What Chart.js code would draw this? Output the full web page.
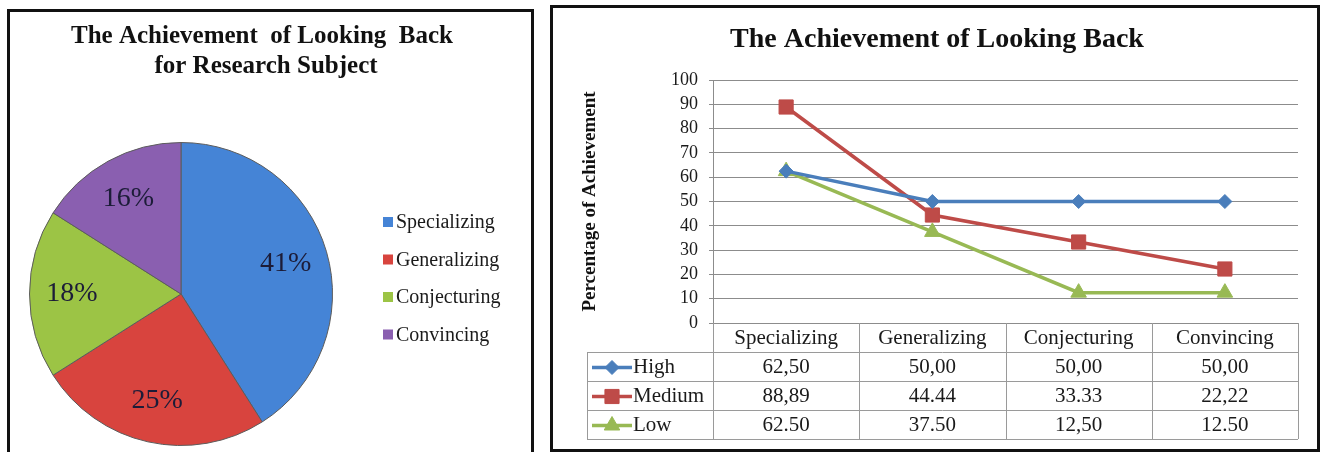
<!DOCTYPE html>
<html>
<head>
<meta charset="utf-8">
<script src="https://cdn.jsdelivr.net/npm/chart.js@4.4.1/dist/chart.umd.min.js"></script>
<style>
  body { margin: 0; background: #fff; width: 1323px; height: 452px; overflow: hidden; position: relative; }
  .panel { position: absolute; top: 0; height: 452px; }
  .frame { position: absolute; border: 3px solid #111; box-sizing: border-box; pointer-events: none; }
</style>
</head>
<body>
<div class="panel" style="left:0;width:540px"><canvas id="pieChart" width="540" height="452"></canvas></div>
<div class="panel" style="left:545px;width:778px"><canvas id="lineChart" width="778" height="452"></canvas></div>
<div class="frame" style="left:7px;top:9px;width:527px;height:460px"></div>
<div class="frame" style="left:550px;top:5px;width:770px;height:447px"></div>
<script>
const SERIF = '"Liberation Serif", "Times New Roman", serif';

// pie: share of looking-back achievement
const pieLabels = ['Specializing', 'Generalizing', 'Conjecturing', 'Convincing'];
const pieValues = [41, 25, 18, 16];
const pieColors = ['#4584d6', '#d8443e', '#9cc445', '#8a5fb0'];

// line chart + data table
const categories = ['Specializing', 'Generalizing', 'Conjecturing', 'Convincing'];
const highValues = [62.50, 50.00, 50.00, 50.00];
const mediumValues = [88.89, 44.44, 33.33, 22.22];
const lowValues = [62.50, 37.50, 12.50, 12.50];
// table cells as printed in the source
const highText = ['62,50', '50,00', '50,00', '50,00'];
const mediumText = ['88,89', '44.44', '33.33', '22,22'];
const lowText = ['62.50', '37.50', '12,50', '12.50'];
const yTicks = [0, 10, 20, 30, 40, 50, 60, 70, 80, 90, 100];

const pieText = {
  id: 'pieText',
  afterDraw(chart) {
    const ctx = chart.ctx;
    ctx.save();
    ctx.fillStyle = '#111';
    ctx.textAlign = 'center';
    ctx.textBaseline = 'middle';
    ctx.font = 'bold 25px ' + SERIF;
    ctx.fillText('The Achievement  of Looking  Back', 262, 37);
    ctx.fillText('for Research Subject', 266, 67);

    // percent labels inside the slices
    const meta = chart.getDatasetMeta(0);
    ctx.font = '28px ' + SERIF;
    ctx.fillStyle = '#1c1c38';
    meta.data.forEach((arc, i) => {
      const p = arc.getProps(['x', 'y', 'startAngle', 'endAngle', 'outerRadius']);
      const mid = (p.startAngle + p.endAngle) / 2;
      const r = p.outerRadius * 0.72;
      ctx.fillText(pieValues[i] + '%', p.x + Math.cos(mid) * r, p.y + Math.sin(mid) * r);
    });

    // legend
    ctx.font = '20px ' + SERIF;
    ctx.textAlign = 'left';
    pieLabels.forEach((lab, i) => {
      const y = 222 + i * 37.5;
      ctx.fillStyle = pieColors[i];
      ctx.fillRect(383, y - 5, 10, 10);
      ctx.fillStyle = '#1a1a1a';
      ctx.fillText(lab, 396, y + 1);
    });
    ctx.restore();
  }
};

new Chart(document.getElementById('pieChart'), {
  type: 'pie',
  data: {
    labels: pieLabels,
    datasets: [{
      data: pieValues,
      backgroundColor: pieColors,
      borderColor: '#5c5c5c',
      borderWidth: 1
    }]
  },
  options: {
    responsive: false,
    animation: false,
    layout: { padding: { left: 29, right: 207, top: 142, bottom: 6 } },
    plugins: { legend: { display: false }, tooltip: { enabled: false } }
  },
  plugins: [pieText]
});

const dataTable = {
  id: 'dataTable',
  afterDraw(chart) {
    const ctx = chart.ctx;
    const area = chart.chartArea;
    const x = chart.scales.x;
    const n = categories.length;
    const colW = (area.right - area.left) / n;
    const rowH = 29;
    const top = area.bottom;
    const headLeft = 42;
    const rows = [highText, mediumText, lowText];
    const bottom = top + rowH * (rows.length + 1);

    ctx.save();
    // title
    ctx.fillStyle = '#111';
    ctx.textAlign = 'center';
    ctx.textBaseline = 'middle';
    ctx.font = 'bold 28px ' + SERIF;
    ctx.fillText('The Achievement of Looking Back', 392, 40);

    // grid of the table
    ctx.strokeStyle = '#9a9a9a';
    ctx.lineWidth = 1;
    ctx.beginPath();
    for (let i = 0; i <= n; i++) {
      const bx = Math.round(area.left + i * colW) + 0.5;
      ctx.moveTo(bx, top);
      ctx.lineTo(bx, bottom);
    }
    ctx.moveTo(headLeft + 0.5, top + rowH);
    ctx.lineTo(headLeft + 0.5, bottom);
    for (let r = 1; r <= rows.length + 1; r++) {
      const y = Math.round(top + r * rowH) + 0.5;
      ctx.moveTo(headLeft, y);
      ctx.lineTo(area.right, y);
    }
    ctx.stroke();

    ctx.fillStyle = '#1a1a1a';
    ctx.font = '21px ' + SERIF;
    categories.forEach((c, i) => ctx.fillText(c, x.getPixelForValue(i), top + rowH / 2 + 1));

    chart.data.datasets.forEach((ds, r) => {
      const cy = top + rowH * (r + 1) + rowH / 2 + 1;
      // legend key: line with marker
      ctx.strokeStyle = ds.borderColor;
      ctx.fillStyle = ds.backgroundColor;
      ctx.lineWidth = 3.5;
      ctx.beginPath();
      ctx.moveTo(47, cy);
      ctx.lineTo(87, cy);
      ctx.stroke();
      ctx.lineWidth = 1;
      Chart.helpers.drawPoint(ctx, { pointStyle: ds.pointStyle, radius: ds.pointRadius, rotation: 0, borderWidth: 1 }, 67, cy);
      ctx.fillStyle = '#1a1a1a';
      ctx.textAlign = 'left';
      ctx.fillText(ds.label, 88, cy);
      ctx.textAlign = 'center';
      rows[r].forEach((t, i) => ctx.fillText(t, x.getPixelForValue(i), cy));
    });
    ctx.restore();
  }
};

new Chart(document.getElementById('lineChart'), {
  type: 'line',
  data: {
    labels: categories,
    datasets: [
      { label: 'High', data: highValues, borderColor: '#4a7ebb', backgroundColor: '#4a7ebb',
        borderWidth: 3.5, pointStyle: 'rectRot', pointRadius: 7, pointBorderWidth: 1 },
      { label: 'Medium', data: mediumValues, borderColor: '#be4b48', backgroundColor: '#be4b48',
        borderWidth: 3.5, pointStyle: 'rect', pointRadius: 10, pointBorderWidth: 1 },
      { label: 'Low', data: lowValues, borderColor: '#98b954', backgroundColor: '#98b954',
        borderWidth: 3.5, pointStyle: 'triangle', pointRadius: 9, pointBorderWidth: 1 }
    ]
  },
  options: {
    responsive: false,
    animation: false,
    layout: { padding: { top: 80, bottom: 129, right: 25, left: 0 } },
    scales: {
      x: { type: 'category', offset: true, display: false },
      y: {
        min: 0, max: 100,
        afterBuildTicks: s => { s.ticks = yTicks.map(v => ({ value: v })); },
        afterFit: s => { s.width = 168; },
        ticks: { font: { family: SERIF, size: 18, lineHeight: 1 }, color: '#1a1a1a', padding: 11, autoSkip: false },
        grid: { color: '#8c8c8c', tickLength: 4 },
        border: { color: '#8c8c8c' },
        title: {
          display: true, text: 'Percentage of Achievement', color: '#111',
          font: { family: SERIF, size: 19, weight: 'bold' }, padding: { top: 34 }
        }
      }
    },
    plugins: { legend: { display: false }, tooltip: { enabled: false } }
  },
  plugins: [dataTable]
});
</script>
</body>
</html>
